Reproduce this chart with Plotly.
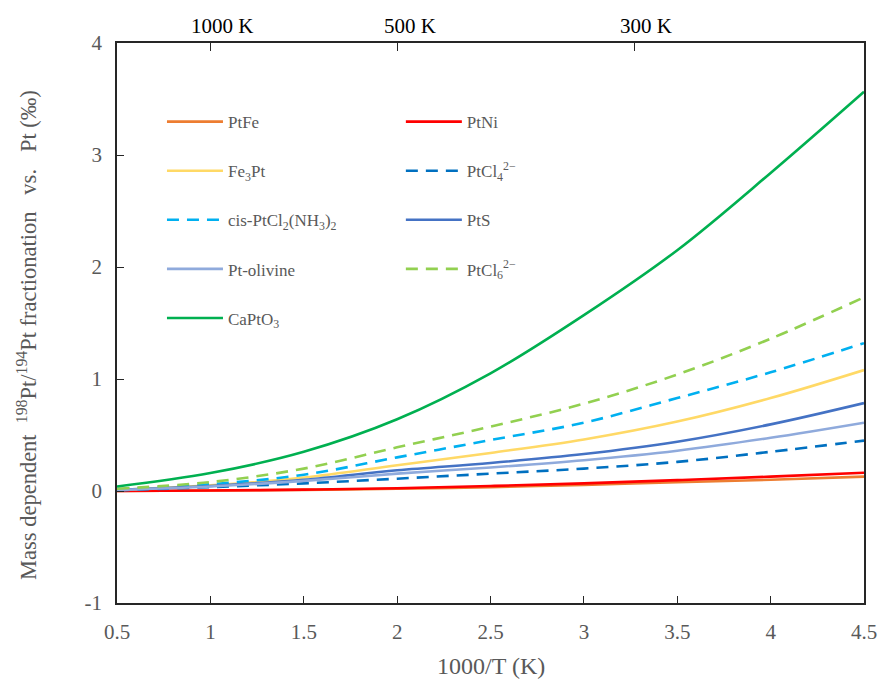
import plotly.graph_objects as go

# 1000/T values
x_vals = [0.5, 1.0, 1.5, 2.0, 2.5, 3.0, 3.5, 4.0, 4.5]

pt_fe = [0.0, 0.004, 0.01, 0.02, 0.035, 0.055, 0.078, 0.10, 0.128]
pt_ni = [0.0, 0.005, 0.012, 0.025, 0.045, 0.068, 0.097, 0.128, 0.163]
fe3pt = [0.01, 0.05, 0.12, 0.23, 0.34, 0.46, 0.62, 0.83, 1.08]
ptcl4 = [0.005, 0.035, 0.068, 0.11, 0.155, 0.20, 0.26, 0.35, 0.45]
cis_ptcl2 = [0.015, 0.06, 0.145, 0.30, 0.455, 0.61, 0.83, 1.06, 1.32]
pts = [0.01, 0.045, 0.10, 0.185, 0.25, 0.33, 0.44, 0.595, 0.785]
pt_olivine = [0.008, 0.04, 0.09, 0.155, 0.21, 0.275, 0.36, 0.475, 0.61]
ptcl6 = [0.02, 0.08, 0.20, 0.39, 0.575, 0.78, 1.04, 1.36, 1.73]
captO3 = [0.04, 0.16, 0.35, 0.64, 1.05, 1.57, 2.15, 2.84, 3.565]

top_tick_vals = [1.0, 2.0, 3.27]
top_label_pos = [1.06, 2.068, 3.333]
top_labels = ["1000 K", "500 K", "300 K"]

y_ticks = [-1, 0, 1, 2, 3, 4]
y_tick_text = ["-1", "0", "1", "2", "3", "4"]
x_ticks = [0.5, 1, 1.5, 2, 2.5, 3, 3.5, 4, 4.5]
x_tick_text = ["0.5", "1", "1.5", "2", "2.5", "3", "3.5", "4", "4.5"]

y_title = "Mass dependent  <sup>198</sup>Pt/<sup>194</sup>Pt fractionation   vs.   Pt (‰)"
x_title = "1000/T (K)"

series = [
    ("PtFe", pt_fe, "#ED7D31", "solid", "legend"),
    ("PtNi", pt_ni, "#FF0000", "solid", "legend2"),
    ("Fe<sub>3</sub>Pt", fe3pt, "#FFD966", "solid", "legend"),
    ("PtCl<sub>4</sub><sup>2−</sup>", ptcl4, "#0070C0", "12px,8px", "legend2"),
    ("cis-PtCl<sub>2</sub>(NH<sub>3</sub>)<sub>2</sub>", cis_ptcl2, "#00B0F0", "12px,8px", "legend"),
    ("PtS", pts, "#4472C4", "solid", "legend2"),
    ("Pt-olivine", pt_olivine, "#8FAADC", "solid", "legend"),
    ("PtCl<sub>6</sub><sup>2−</sup>", ptcl6, "#92D050", "12px,8px", "legend2"),
    ("CaPtO<sub>3</sub>", captO3, "#00B050", "solid", "legend"),
]

fig = go.Figure()
for i, (name, vals, color, dash, leg) in enumerate(series):
    fig.add_trace(go.Scatter(
        x=x_vals, y=vals, name=name, mode="lines",
        line=dict(color=color, width=2.6, dash=dash, shape="spline"),
        legend=leg, legendgroup="g%d" % i,
    ))

# dummy trace for top axis
fig.add_trace(go.Scatter(x=[0.5, 4.5], y=[None, None], xaxis="x2", showlegend=False,
                         mode="lines", hoverinfo="skip"))

font_family = "Liberation Serif"
grey = "#595959"

fig.update_layout(
    width=882, height=684,
    margin=dict(l=117, r=18, t=43, b=81),
    paper_bgcolor="white", plot_bgcolor="white",
    font=dict(family=font_family, color=grey),
    xaxis=dict(
        range=[0.5, 4.5], tickvals=x_ticks, ticktext=x_tick_text,
        ticks="inside", ticklen=7, tickcolor="#262626", tickwidth=1.2,
        showline=True, linecolor="#262626", linewidth=1.5, mirror=True,
        showgrid=False, zeroline=False, ticklabelstandoff=9, automargin=False,
        tickfont=dict(size=21, family=font_family, color=grey),
    ),
    xaxis2=dict(
        overlaying="x", side="top", range=[0.5, 4.5],
        tickvals=top_tick_vals, ticktext=["", "", ""],
        ticks="inside", ticklen=8, tickcolor="#262626", tickwidth=1.2,
        showline=False, showgrid=False, zeroline=False, automargin=False,
    ),
    yaxis=dict(
        range=[-1, 4], tickvals=y_ticks, ticktext=y_tick_text,
        ticks="inside", ticklen=7, tickcolor="#262626", tickwidth=1.2,
        showline=True, linecolor="#262626", linewidth=1.5, mirror=True,
        showgrid=False, zeroline=False, ticklabelstandoff=9, automargin=False,
        tickfont=dict(size=21, family=font_family, color=grey),
    ),
    legend=dict(
        x=0.0602, y=0.891, xanchor="left", yanchor="top",
        bgcolor="rgba(0,0,0,0)", tracegroupgap=24, itemwidth=56,
        font=dict(size=17, family=font_family, color=grey),
    ),
    legend2=dict(
        x=0.380, y=0.891, xanchor="left", yanchor="top",
        bgcolor="rgba(0,0,0,0)", tracegroupgap=24, itemwidth=56,
        font=dict(size=17, family=font_family, color=grey),
    ),
    showlegend=True,
)

# axis titles
fig.add_annotation(x=-0.1205, y=0.4786, xref="paper", yref="paper",
                   xanchor="center", yanchor="middle", textangle=-90,
                   text=y_title, showarrow=False,
                   font=dict(size=22.5, family=font_family, color=grey))
fig.add_annotation(x=0.5, y=0, xref="paper", yref="paper",
                   xanchor="center", yanchor="middle", yshift=-63,
                   text=x_title, showarrow=False,
                   font=dict(size=24, family=font_family, color=grey))

for pos, lab in zip(top_label_pos, top_labels):
    fig.add_annotation(x=pos, y=1.0, xref="x", yref="paper", yanchor="middle", yshift=17,
                       text=lab, showarrow=False,
                       font=dict(size=21, family=font_family, color="#000000"))

fig.write_html("out.html", config={"displayModeBar": False},
               post_script="document.body.style.margin='0';document.body.style.overflow='hidden';")
